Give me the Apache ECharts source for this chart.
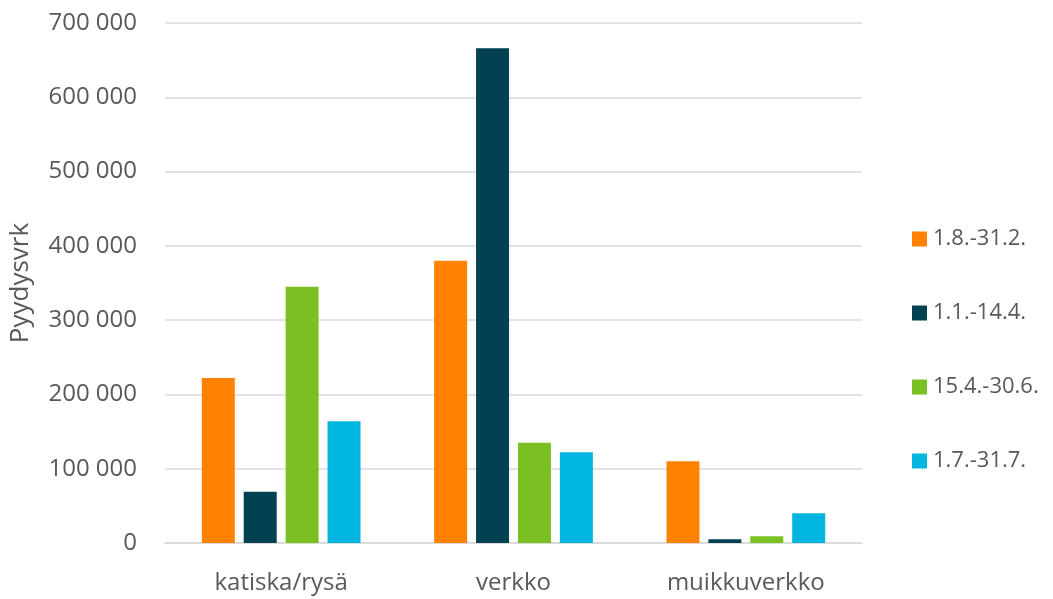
<!DOCTYPE html>
<html>
<head>
<meta charset="utf-8">
<script src="https://cdn.jsdelivr.net/npm/echarts@6/dist/echarts.min.js"></script>
<style>
  html, body { margin: 0; padding: 0; background: #fff; }
  #chart { width: 1053px; height: 599px; }
</style>
</head>
<body>
<div id="chart"></div>
<script>
const categories = ['katiska/rysä', 'verkko', 'muikkuverkko']
const seriesNames = ['1.8.-31.2.', '1.1.-14.4.', '15.4.-30.6.', '1.7.-31.7.']
const autumnWinter = [222000, 380000, 110000]
const winterSpring = [69000, 666000, 5000]
const springSummer = [345000, 135000, 9000]
const july = [164000, 122000, 40000]
const colors = ['#ff8300', '#014152', '#7ac023', '#00b6e0']

const seriesData = [autumnWinter, winterSpring, springSummer, july]
const textColor = '#595959'
const fontFamily = '"Open Sans", "Noto Sans", sans-serif'

const chart = echarts.init(document.getElementById('chart'))
chart.setOption({
  animation: false,
  color: colors,
  textStyle: { fontFamily: fontFamily },
  grid: { left: 165, right: 191, top: 23, bottom: 56, outerBoundsMode: 'none', containLabel: false },
  legend: {
    orient: 'vertical',
    left: 907,
    top: 223,
    itemWidth: 15,
    itemHeight: 15,
    itemGap: 52,
    icon: 'rect',
    textStyle: { color: textColor, fontSize: 22, lineHeight: 22, fontFamily: fontFamily, padding: [0, 0, 0, 1] },
    data: seriesNames
  },
  xAxis: {
    type: 'category',
    data: categories,
    axisLine: { lineStyle: { color: '#d9d9d9', width: 1.5 } },
    axisTick: { show: false },
    axisLabel: { color: textColor, fontSize: 24, margin: 28 }
  },
  yAxis: {
    type: 'value',
    min: 0,
    max: 700000,
    interval: 100000,
    name: 'Pyydysvrk',
    nameLocation: 'middle',
    nameGap: 131,
    nameTextStyle: { color: textColor, fontSize: 26 },
    axisLabel: {
      color: textColor,
      fontSize: 24,
      margin: 28,
      formatter: v => String(v).replace(/\B(?=(\d{3})+(?!\d))/g, ' ')
    },
    splitLine: { lineStyle: { color: '#d9d9d9', width: 1.5 } },
    axisLine: { show: false },
    axisTick: { show: false }
  },
  series: seriesData.map((data, idx) => ({
    name: seriesNames[idx],
    type: 'bar',
    data: data,
    barWidth: 33,
    barGap: '27%'
  }))
})
</script>
</body>
</html>
